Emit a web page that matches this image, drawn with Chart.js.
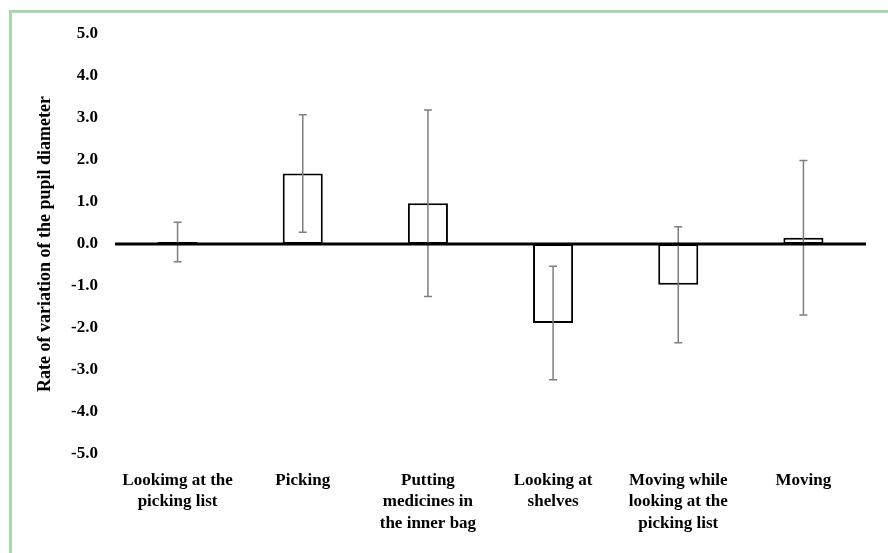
<!DOCTYPE html>
<html>
<head>
<meta charset="utf-8">
<script src="https://cdn.jsdelivr.net/npm/chart.js@4/dist/chart.umd.min.js"></script>
<style>
  body { margin: 0; background: #fff; overflow: hidden; }
  #frame { position: absolute; left: 9px; top: 10px; width: 920px; height: 600px; border: 3px solid #a6d9ab; }
  #grafico { position: absolute; left: 0; top: 0; }
</style>
</head>
<body>
<div id="frame"></div>
<canvas id="grafico" width="888" height="553"></canvas>
<script>
var categorie = [
  ["Lookimg at the", "picking list"],
  ["Picking"],
  ["Putting", "medicines in", "the inner bag"],
  ["Looking at", "shelves"],
  ["Moving while", "looking at the", "picking list"],
  ["Moving"]
];
var medie = [0.05, 1.68, 0.97, -1.88, -0.97, 0.15];
var errori = [0.47, 1.40, 2.22, 1.35, 1.38, 1.84];
var tickY = [-5, -4, -3, -2, -1, 0, 1, 2, 3, 4, 5];

var serif = "'Liberation Serif', 'Times New Roman', serif";

// barre di errore disegnate sopra le barre
var barreErrore = {
  id: 'barreErrore',
  afterDatasetsDraw: function(chart) {
    var ctx = chart.ctx;
    var y = chart.scales.y;
    var meta = chart.getDatasetMeta(0);
    ctx.save();
    ctx.strokeStyle = '#7f7f7f';
    ctx.lineWidth = 1.5;
    meta.data.forEach(function(bar, i) {
      var top = y.getPixelForValue(medie[i] + errori[i]);
      var bot = y.getPixelForValue(medie[i] - errori[i]);
      ctx.beginPath();
      ctx.moveTo(bar.x, top); ctx.lineTo(bar.x, bot);
      ctx.moveTo(bar.x - 4, top); ctx.lineTo(bar.x + 4, top);
      ctx.moveTo(bar.x - 4, bot); ctx.lineTo(bar.x + 4, bot);
      ctx.stroke();
    });
    // linea dello zero sopra tutto
    var z = y.getPixelForValue(0);
    ctx.strokeStyle = '#000';
    ctx.lineWidth = 3;
    ctx.beginPath();
    ctx.moveTo(chart.chartArea.left, z);
    ctx.lineTo(chart.chartArea.right, z);
    ctx.stroke();
    ctx.restore();
  }
};

var grafico = new Chart(document.getElementById('grafico'), {
  type: 'bar',
  data: {
    labels: categorie,
    datasets: [{
      data: medie,
      backgroundColor: '#ffffff',
      borderColor: '#000000',
      borderWidth: 2,
      borderSkipped: false,
      barPercentage: 0.32,
      categoryPercentage: 1
    }]
  },
  options: {
    responsive: false,
    animation: false,
    layout: { padding: { left: 31, right: 22, top: 34, bottom: 0 } },
    plugins: { legend: { display: false }, tooltip: { enabled: false } },
    scales: {
      x: {
        grid: { display: false, drawTicks: false },
        border: { display: false },
        ticks: {
          color: '#000',
          maxRotation: 0,
          autoSkip: false,
          padding: 16,
          font: { family: serif, size: 17, weight: 'bold', lineHeight: 1.25 }
        },
        afterFit: function(scale) { scale.height = 99; }
      },
      y: {
        min: -5,
        max: 5,
        afterBuildTicks: function(scale) {
          scale.ticks = tickY.map(function(v) { return { value: v }; });
        },
        grid: { display: false, drawTicks: false },
        border: { display: false },
        ticks: {
          color: '#000',
          padding: 17,
          font: { family: serif, size: 17, weight: 'bold' },
          callback: function(v) { return Number(v).toFixed(1); }
        },
        title: {
          display: true,
          text: 'Rate of variation of the pupil diameter',
          color: '#000',
          padding: { top: 4, bottom: 4 },
          font: { family: serif, size: 18, weight: 'bold' }
        },
        afterFit: function(scale) { scale.width = 84; }
      }
    }
  },
  plugins: [barreErrore]
});
</script>
</body>
</html>
